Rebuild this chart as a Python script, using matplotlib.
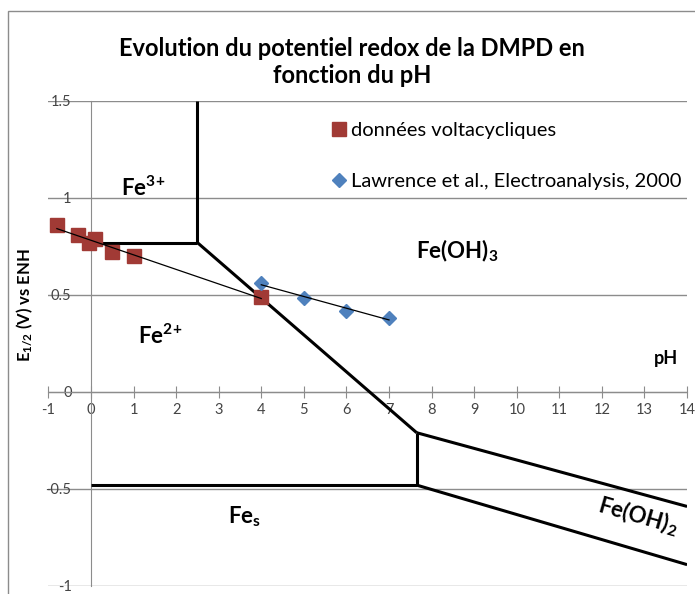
import matplotlib.pyplot as plt
import numpy as np

plt.rcParams['font.family'] = ['Lato', 'DejaVu Sans']
plt.rcParams['mathtext.default'] = 'regular'

# cyclic voltammetry data (pH, E1/2 in V vs ENH)
volta_ph = [-0.8, -0.3, -0.05, 0.1, 0.5, 1.0, 4.0]
volta_e = [0.86, 0.81, 0.77, 0.79, 0.72, 0.70, 0.49]

# Lawrence et al., Electroanalysis, 2000
lawrence_ph = [4, 5, 6, 7]
lawrence_e = [0.563, 0.483, 0.419, 0.383]

# iron Pourbaix boundaries, (pH list, E list)
boundaries = {
    'fe3_fe2': ([0, 2.5], [0.77, 0.77]),
    'fe3_feoh3': ([2.5, 2.5], [0.77, 1.5]),
    'fe2_feoh3': ([2.5, 7.65], [0.77, -0.21]),
    'fe_fe2': ([0, 7.65], [-0.48, -0.48]),
    'fe2_feoh2': ([7.65, 7.65], [-0.21, -0.48]),
    'feoh3_feoh2': ([7.65, 14], [-0.21, -0.59]),
    'fe_feoh2': ([7.65, 14], [-0.48, -0.89]),
}

x_ticks = list(range(-1, 15))
y_ticks = [-1, -0.5, 0, 0.5, 1, 1.5]
y_ticklabels = ['-1', '-0.5', '0', '0.5', '1', '1.5']

GRAY = '#8c8c8c'
RED = '#a13a35'
BLUE = '#4f81bd'

fig = plt.figure(figsize=(6.95, 5.94), dpi=100)
ax = fig.add_axes([0.0696, 0.0135, 0.919, 0.8165])

# chart frame
fig.patches.append(plt.Rectangle((8 / 695, -0.1), 1.2, 1.1 - 11 / 594,
                                 transform=fig.transFigure, fill=False,
                                 edgecolor=GRAY, lw=1))

for ph, e in boundaries.values():
    ax.plot(ph, e, color='black', lw=2.2, solid_capstyle='butt', zorder=3)

ax.plot(volta_ph, volta_e, 's', color=RED, ms=10, zorder=4,
        label='données voltacycliques')
ax.plot(lawrence_ph, lawrence_e, 'D', color=BLUE, ms=7, zorder=4,
        label='Lawrence et al., Electroanalysis, 2000')

# linear trendlines
for ph, e in [(volta_ph, volta_e), (lawrence_ph, lawrence_e)]:
    a, b = np.polyfit(ph, e, 1)
    xs = np.array([min(ph), max(ph)])
    ax.plot(xs, a * xs + b, color='black', lw=0.9, zorder=5)

ax.set_xlim(-1, 14)
ax.set_ylim(-1, 1.5)
ax.set_xticks(x_ticks)
ax.set_xticklabels([str(t) for t in x_ticks])
ax.set_yticks(y_ticks)
ax.set_yticklabels(y_ticklabels)
ax.grid(axis='y', color=GRAY, lw=1)
ax.set_axisbelow(True)

for s in ['top', 'right']:
    ax.spines[s].set_visible(False)
ax.spines['bottom'].set_position(('data', 0))
ax.spines['left'].set_position(('data', 0))
ax.spines['bottom'].set_color(GRAY)
ax.spines['left'].set_color(GRAY)
ax.tick_params(axis='x', direction='inout', length=8, color=GRAY, pad=4,
               labelsize=10.5, labelcolor='#444444')
ax.tick_params(axis='y', length=0, pad=14, labelsize=10.5, labelcolor='#444444')

# domain labels
lab = dict(fontsize=16, fontweight='bold', ha='center', va='center', zorder=6)
ax.text(1.22, 1.05, r'Fe$^{3\!+}$', **lab)
ax.text(1.62, 0.29, r'Fe$^{2\!+}$', **lab)
ax.text(8.6, 0.73, 'Fe(OH)$_3$', **lab)
ax.text(3.6, -0.645, 'Fe$_s$', **lab)
ax.text(12.85, -0.64, 'Fe(OH)$_2$', rotation=-16, rotation_mode='anchor', **lab)
ax.text(13.5, 0.175, 'pH', fontsize=13, fontweight='bold', ha='center',
        va='center')

ax.legend(loc='upper left', bbox_to_anchor=(0.435, 0.973), frameon=False,
          fontsize=14.5, labelspacing=1.65, handlelength=0.5, handletextpad=0.35,
          borderaxespad=0)

fig.text(0.507, 0.896, 'Evolution du potentiel redox de la DMPD en\nfonction du pH',
         ha='center', va='center', fontsize=17, fontweight='bold',
         linespacing=1.2)
fig.text(25 / 695, 1 - 305 / 594, 'E$_{1/2}$ (V) vs ENH', rotation=90,
         ha='center', va='center', fontsize=12, fontweight='bold')

fig.savefig('out.png', dpi=100)
